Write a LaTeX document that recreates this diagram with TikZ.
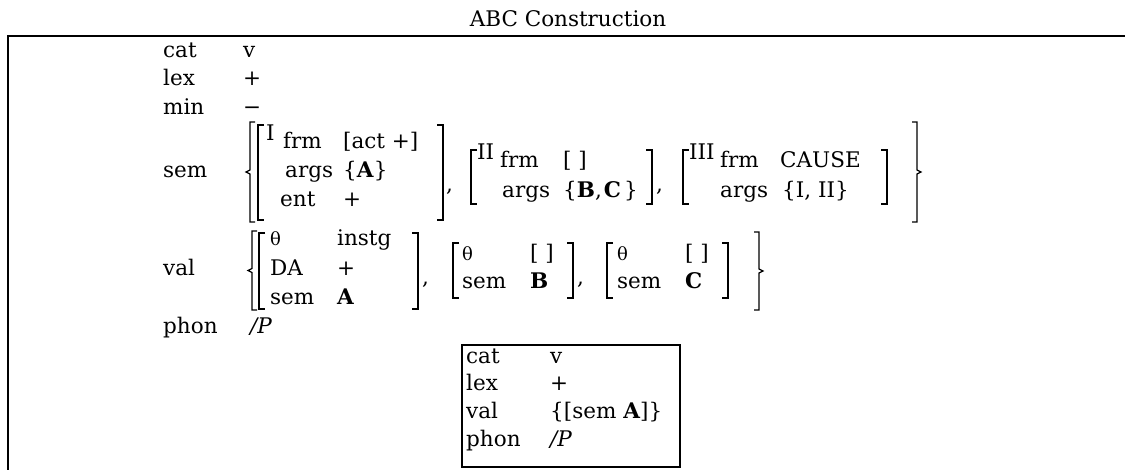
\documentclass[tikz,border=0pt]{standalone}
\usepackage{fontspec}
\setmainfont{DejaVu Serif}
\newcommand\myLbrack[3]{\draw[brk] (#1+6,#2) -- (#1,#2) -- (#1,#3) -- (#1+6,#3);}
\newcommand\myRbrack[3]{\draw[brk] (#1-6,#2) -- (#1,#2) -- (#1,#3) -- (#1-6,#3);}
\newcommand\myLbrace[3]{\draw[brk] (#1+5,#2) -- (#1,#2) -- (#1,{(#2+#3)/2-2}) -- (#1-4,{(#2+#3)/2}) -- (#1,{(#2+#3)/2+2}) -- (#1,#3) -- (#1+5,#3);}
\newcommand\myRbrace[3]{\draw[brk] (#1-5,#2) -- (#1,#2) -- (#1,{(#2+#3)/2-2}) -- (#1+4,{(#2+#3)/2}) -- (#1,{(#2+#3)/2+2}) -- (#1,#3) -- (#1-5,#3);}
\begin{document}
\begin{tikzpicture}[x=1pt,y=-1pt,
  font=\fontsize{21.5}{25}\selectfont,
  txt/.style={anchor=base west, inner sep=0pt},
  brk/.style={line width=1.3pt},
  frame/.style={line width=2pt},
  th/.style={txt, font=\fontsize{18}{20}\selectfont}]
\useasboundingbox (0,0) rectangle (1125,470);
% title and frame
\node[anchor=base, inner sep=0pt] (title) at (568,27) {ABC Construction};
\draw[frame] (8,470) -- (8,36) -- (1125,36);
% simple rows
\node[txt] (lcat) at (163,58) {cat};  \node[txt] (vcat) at (243,58) {v};
\node[txt] (llex) at (163,86) {lex};  \node[txt] (vlex) at (243,86) {+};
\node[txt] (lmin) at (163,115) {min}; \node[txt] (vmin) at (243,115) {−};
% sem
\node[txt] (lsem) at (163,178) {sem};
\myLbrace{250}{122}{222}
\myLbrack{258}{125}{220}
\node[txt] (s1sup) at (266,141) {I};
\node[txt] (s1frm) at (283,149) {frm};  \node[txt] (s1frmv) at (343,149) {[act +]};
\node[txt] (s1arg) at (285,178) {args}; \node[txt] (s1argv) at (343,178) {\{\textbf{A}\}};
\node[txt] (s1ent) at (280,207) {ent};  \node[txt] (s1entv) at (343,207) {+};
\myRbrack{443}{125}{220}
\node[txt] (c1) at (446,192) {,};
\myLbrack{471}{150}{204}
\node[txt] (s2sup) at (477,160) {II};
\node[txt] (s2frm) at (500,168) {frm};  \node[txt] (s2frmv) at (563,168) {[ ]};
\node[txt] (s2arg) at (502,198) {args}; \node[txt] (s2argv) at (563,198) {\{\textbf{B},\kern2pt\textbf{C}\kern3pt\}};
\myRbrack{652}{150}{204}
\node[txt] (c2) at (656,192) {,};
\myLbrack{683}{150}{204}
\node[txt] (s3sup) at (689,160) {III};
\node[txt] (s3frm) at (720,168) {frm};  \node[txt] (s3frmv) at (780,168) {CAUSE};
\node[txt] (s3arg) at (720,198) {args}; \node[txt] (s3argv) at (782,198) {\{I, II\}};
\myRbrack{887}{150}{204}
\myRbrace{917}{122}{222}
% val
\node[txt] (lval) at (163,276) {val};
\myLbrace{252}{231}{310}
\myLbrack{259}{233}{309}
\node[th] (v1th) at (270,246) {θ};   \node[txt] (v1thv) at (337,246) {instg};
\node[txt] (v1da) at (270,276) {DA};  \node[txt] (v1dav) at (337,276) {+};
\node[txt] (v1sem) at (270,305) {sem}; \node[txt] (v1semv) at (337,305) {\textbf{A}};
\myRbrack{418}{233}{309}
\node[txt] (c4) at (422,285) {,};
\myLbrack{453}{243}{298}
\node[th] (v2th) at (462,261) {θ};   \node[txt] (v2thv) at (530,261) {[ ]};
\node[txt] (v2sem) at (462,289) {sem}; \node[txt] (v2semv) at (530,289) {\textbf{B}};
\myRbrack{573}{243}{298}
\node[txt] (c5) at (577,285) {,};
\myLbrack{607}{243}{298}
\node[th] (v3th) at (617,261) {θ};   \node[txt] (v3thv) at (685,261) {[ ]};
\node[txt] (v3sem) at (617,289) {sem}; \node[txt] (v3semv) at (685,289) {\textbf{C}};
\myRbrack{728}{243}{298}
\myRbrace{759}{232}{310}
% phon
\node[txt] (lphon) at (163,334) {phon}; \node[txt] (vphon) at (250,334) {\textit{/P}};
% inner box
\draw[brk] (462,345) rectangle (680,467);
\node[txt] (icat) at (466,363) {cat};   \node[txt] (icatv) at (550,363) {v};
\node[txt] (ilex) at (466,391) {lex};   \node[txt] (ilexv) at (550,391) {+};
\node[txt] (ival) at (466,418) {val};   \node[txt] (ivalv) at (550,418) {\{[sem \textbf{A}]\}};
\node[txt] (iphon) at (466,446) {phon}; \node[txt] (iphonv) at (550,446) {\textit{/P}};
\end{tikzpicture}
\end{document}
